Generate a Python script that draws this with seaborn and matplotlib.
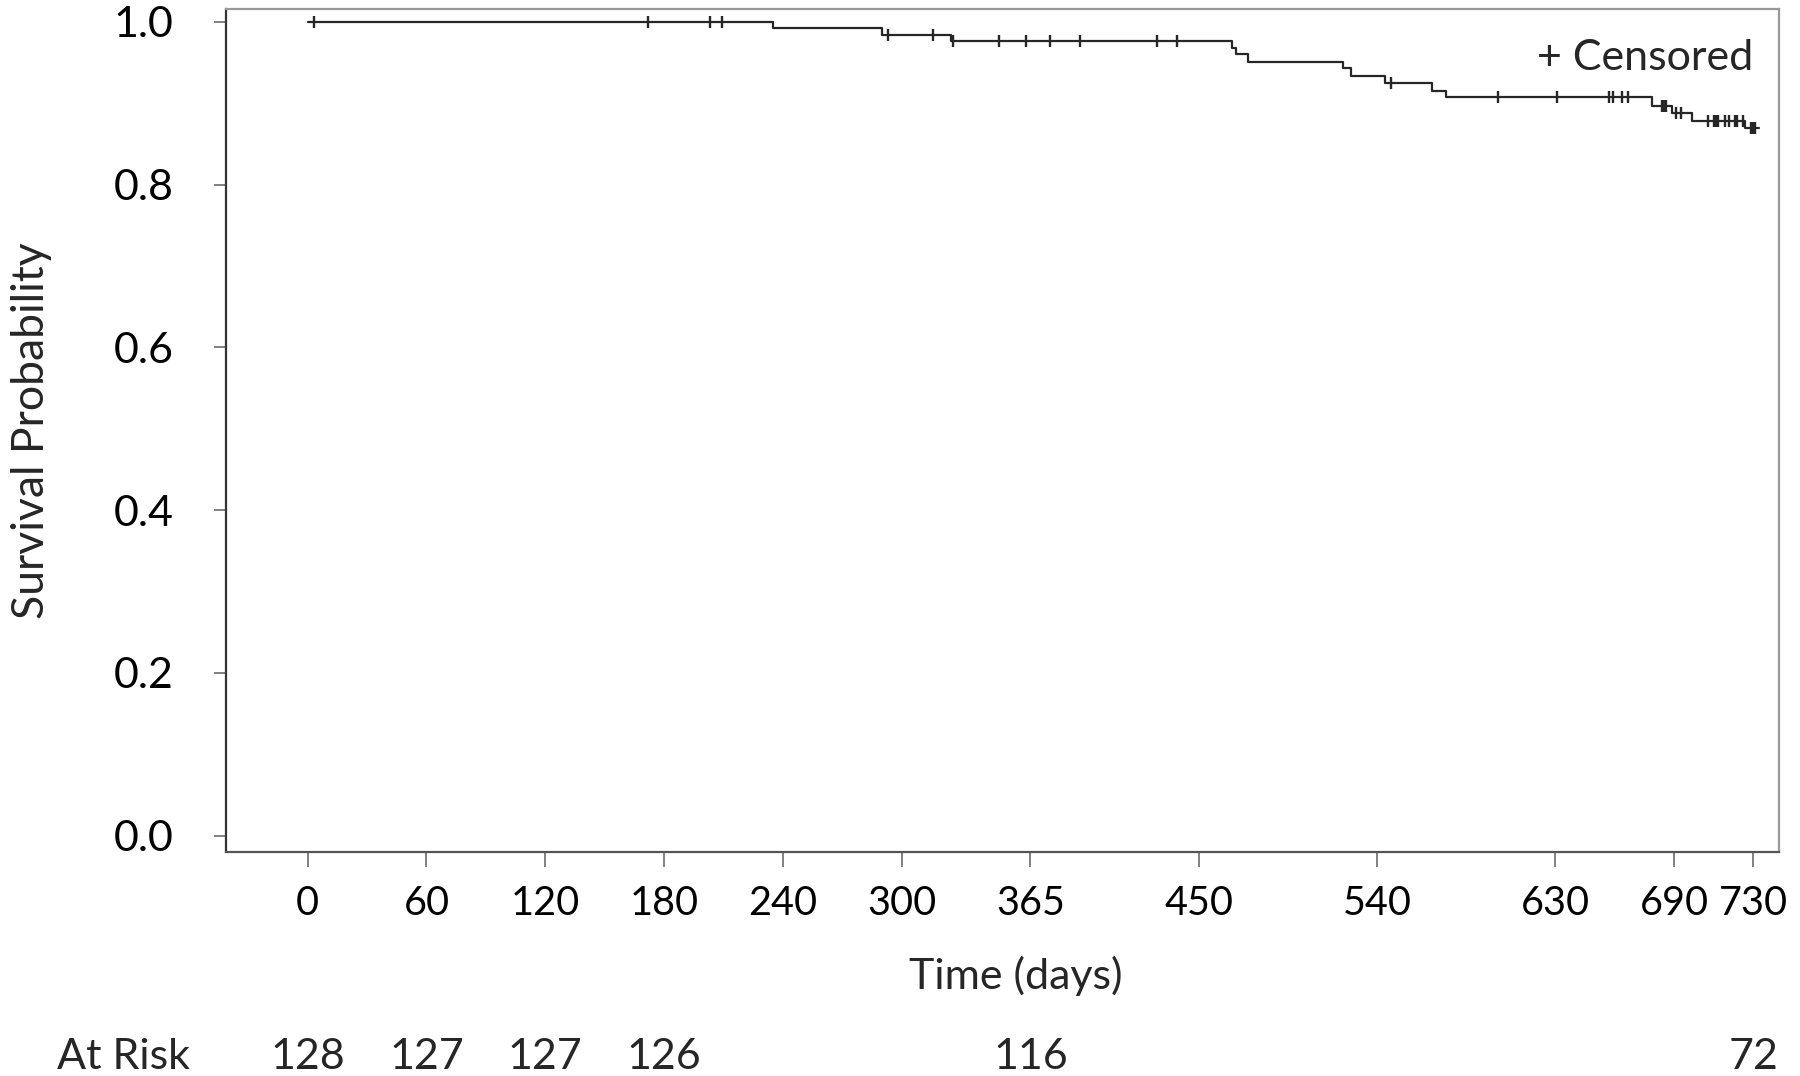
"""
Kaplan-Meier style survival curve with censor marks and an at-risk row.
"""

import matplotlib
matplotlib.use("Agg")
import matplotlib.pyplot as plt
import matplotlib.transforms as mtransforms
import numpy as np
import pandas as pd
import seaborn as sns

sns.set_theme(style="ticks")
plt.rcParams["font.family"] = ["Lato", "DejaVu Sans"]

# ── data ────────────────────────────────────────────────────────────────────
step_days = [0, 235, 290, 325, 467, 469, 475, 523, 527, 544, 568, 575,
             679, 689, 699, 726, 733]
step_surv = [1.000, 0.992, 0.984, 0.976, 0.968, 0.960, 0.951, 0.943, 0.933,
             0.925, 0.915, 0.907, 0.897, 0.888, 0.878, 0.869, 0.869]

censor_days = [3, 172, 203, 209, 293, 316, 326, 349, 363, 375, 390, 429, 439,
               547, 601, 631, 657, 659, 664, 667, 684, 685, 686, 691, 693.5,
               707, 710, 711, 712, 716, 718, 721, 722, 725, 729, 730, 731]

tick_days = [0, 60, 120, 180, 240, 300, 365, 450, 540, 630, 690, 730]
risk_days = [0, 60, 120, 180, 365, 730]
risk_counts = [128, 127, 127, 126, 116, 72]
y_ticks = [0.0, 0.2, 0.4, 0.6, 0.8, 1.0]

curve = pd.DataFrame({"day": step_days, "surv": step_surv})
# survival level at each censor time, looked up on the step curve
idx = np.searchsorted(step_days, censor_days, side="right") - 1
censored = pd.DataFrame({"day": censor_days,
                         "surv": np.asarray(step_surv)[idx]})

LINE = "#262626"
FS = 31

fig = plt.figure(figsize=(18, 10.76), dpi=100)
ax = fig.add_axes([0.1256, 0.2082, 0.8628, 0.7834])

sns.lineplot(data=curve, x="day", y="surv", drawstyle="steps-post",
             estimator=None, color=LINE, linewidth=1.6, ax=ax)
sns.scatterplot(data=censored, x="day", y="surv", marker="|", s=85,
                color=LINE, linewidth=1.7, ax=ax, legend=False, zorder=3)

ax.set_xlim(-41.2, 743.1)
ax.set_ylim(-0.020, 1.0156)
ax.set_xticks(tick_days)
ax.set_xticklabels([str(d) for d in tick_days])
ax.set_yticks(y_ticks)
ax.set_yticklabels([f"{v:.1f}" for v in y_ticks])

# x labels a touch smaller so "690" and "730" keep apart
ax.tick_params(axis="x", length=11, width=1.3, color="#777777",
               labelsize=28.5, pad=13, labelcolor="black")
ax.tick_params(axis="y", length=9, width=1.3, color="#777777",
               labelsize=FS, pad=29, labelcolor="black")

ax.spines["left"].set_color("#333333")
ax.spines["bottom"].set_color("#555555")
ax.spines["top"].set_color("#9a9a9a")
ax.spines["right"].set_color("#9a9a9a")
for s in ax.spines.values():
    s.set_linewidth(1.6)

ax.set_xlabel("Time (days)", fontsize=FS, labelpad=24)
ax.xaxis.label.set_x(0.5085)
ax.set_ylabel("Survival Probability", fontsize=32, labelpad=44)

ax.text(730, 0.941, "+ Censored", fontsize=FS, ha="right", va="baseline")

# at-risk row under the axis
trans = mtransforms.blended_transform_factory(ax.transData, fig.transFigure)
fig.text(57 / 1800, 0.0065, "At Risk", fontsize=FS, ha="left", va="baseline")
for d, n in zip(risk_days, risk_counts):
    ax.text(d, 0.0065, str(n), transform=trans, fontsize=FS,
            ha="center", va="baseline", clip_on=False)

fig.savefig("out.png", dpi=100)
plt.close(fig)
